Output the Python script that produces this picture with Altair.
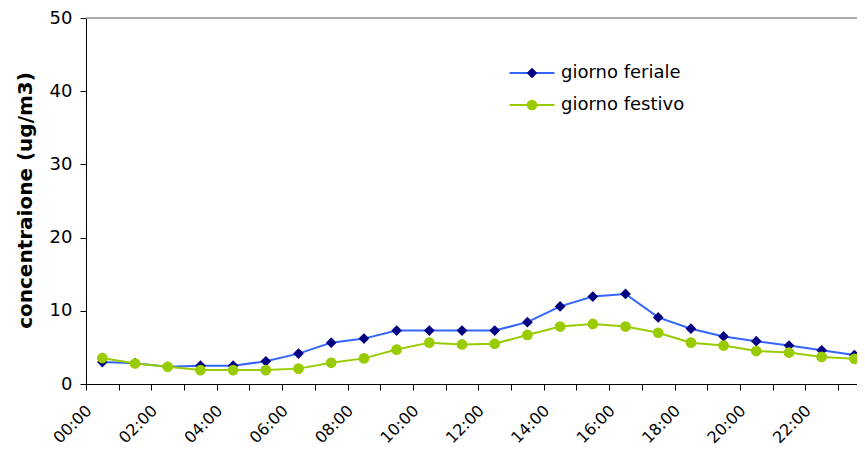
import altair as alt
import pandas as pd

hours = ["00:00", "01:00", "02:00", "03:00", "04:00", "05:00", "06:00", "07:00",
         "08:00", "09:00", "10:00", "11:00", "12:00", "13:00", "14:00", "15:00",
         "16:00", "17:00", "18:00", "19:00", "20:00", "21:00", "22:00", "23:00"]
feriale = [3.0, 2.85, 2.35, 2.5, 2.5, 3.1, 4.15, 5.65, 6.2, 7.3, 7.3, 7.3,
           7.3, 8.45, 10.6, 11.95, 12.3, 9.1, 7.55, 6.5, 5.85, 5.25, 4.6, 3.95]
festivo = [3.55, 2.8, 2.35, 1.9, 1.9, 1.9, 2.1, 2.9, 3.5, 4.7, 5.65, 5.4,
           5.5, 6.7, 7.85, 8.2, 7.85, 7.0, 5.65, 5.25, 4.5, 4.3, 3.7, 3.45]
series_names = ["giorno feriale", "giorno festivo"]
line_colors = ["#3366FF", "#99CC00"]
marker_colors = ["#000080", "#99CC00"]
marker_shapes = ["diamond", "circle"]
y_ticks = [0, 10, 20, 30, 40, 50]
y_title = "concentraione (ug/m3)"

rows = []
for name, vals in zip(series_names, [feriale, festivo]):
    for i, v in enumerate(vals):
        rows.append({"series": name, "hour": hours[i], "pos": i + 0.5, "value": v})
df = pd.DataFrame(rows)
top_df = pd.DataFrame({"value": [y_ticks[-1]]})

FONT = "DejaVu Sans"

x_enc = alt.X(
    "pos:Q",
    title=None,
    scale=alt.Scale(domain=[0, 23.58], nice=False, zero=False),
    axis=alt.Axis(
        values=list(range(len(hours))),
        labelExpr="datum.value % 2 == 0 ? (datum.value < 10 ? '0' : '') + datum.value + ':00' : ''",
        labelAngle=-45, labelAlign="right", labelBaseline="top",
        labelFlush=False, labelOverlap=False, labelFontSize=16,
        labelPadding=12, labelOffset=-3, tickSize=6,
    ),
)
y_enc = alt.Y(
    "value:Q",
    title=y_title,
    scale=alt.Scale(domain=[0, 50], nice=False),
    axis=alt.Axis(
        values=y_ticks, tickSize=6, labelPadding=8, labelFontSize=18,
        titleFontSize=20, titleFontWeight="bold", titleAngle=270,
        titleX=-61, titleY=182, titleBaseline="middle",
    ),
)

common_legend = dict(orient="none", legendX=437, legendY=46, title=None,
                     labelFontSize=18, labelFont=FONT, labelOffset=20,
                     rowPadding=14, padding=0)

lines = alt.Chart(df).mark_line(strokeWidth=2).encode(
    x=x_enc, y=y_enc,
    stroke=alt.Stroke("series:N",
                      scale=alt.Scale(domain=series_names, range=line_colors),
                      legend=alt.Legend(symbolType="M-5,0H5", symbolSize=81,
                                        symbolStrokeWidth=2, labelOpacity=0,
                                        zindex=0, **common_legend)),
)

pts_legend = alt.Legend(symbolSize=115, symbolStrokeWidth=0, labelColor="black",
                        zindex=1, **common_legend)
points = alt.Chart(df).mark_point(filled=True, size=115, opacity=1).encode(
    x=x_enc, y=y_enc,
    fill=alt.Fill("series:N", scale=alt.Scale(range=marker_colors), legend=pts_legend),
    shape=alt.Shape("series:N", scale=alt.Scale(range=marker_shapes), legend=pts_legend),
)

top_line = alt.Chart(top_df).mark_rule(color="#8c8c8c", strokeWidth=1.5).encode(y=y_enc)

chart = alt.layer(top_line, lines, points).properties(
    width=771, height=366,
    autosize=alt.AutoSizeParams(type="none"),
    padding={"left": 78, "top": 10, "right": 0, "bottom": 74},
    background="white",
).configure_view(stroke=None).configure_axis(
    domainColor="black", tickColor="black", labelColor="black", titleColor="black",
    grid=False, labelFont=FONT, titleFont=FONT, domainWidth=1, tickWidth=1,
)

chart.save("out.html", embed_options={"renderer": "svg", "actions": False})
